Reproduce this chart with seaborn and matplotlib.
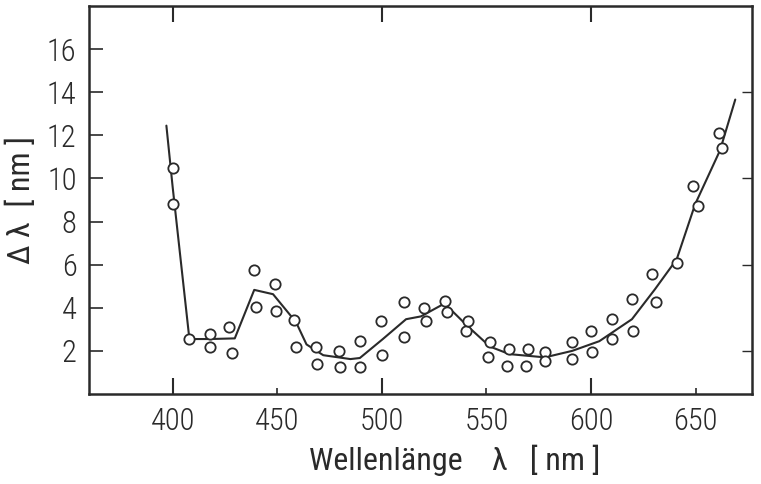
import matplotlib
matplotlib.use("Agg")
import matplotlib.pyplot as plt
import seaborn as sns
import pandas as pd
from matplotlib import font_manager

# measured points (wavelength nm, delta lambda nm)
wl = [400, 400, 408, 418, 418, 427, 428.5, 438.8, 440, 449, 449.6, 458, 459,
      468.6, 469, 479.4, 480, 489.8, 489.5, 499.4, 500.3, 510.5, 510.5, 520, 521,
      530, 531, 540.4, 541, 551.7, 550.7, 561, 560, 570, 569, 578, 578,
      590.8, 590.8, 600, 600.5, 610, 610, 619.5, 620, 629, 631, 641,
      648.9, 651, 661, 662.5]
dl = [10.5, 8.8, 2.55, 2.78, 2.18, 3.1, 1.9, 5.75, 4.05, 5.1, 3.85, 3.45, 2.2,
      2.18, 1.4, 2.0, 1.25, 2.47, 1.25, 3.4, 1.8, 4.27, 2.63, 4.0, 3.4,
      4.3, 3.8, 2.93, 3.4, 2.4, 1.7, 2.08, 1.3, 2.08, 1.3, 1.94, 1.53,
      2.4, 1.62, 2.93, 1.94, 3.47, 2.55, 4.4, 2.93, 5.55, 4.26, 6.1,
      9.64, 8.7, 12.1, 11.4]

# fitted curve
curve_wl = [397, 400, 408, 418, 429.7, 439, 448, 459, 464, 472, 485, 489.5,
            500.5, 511.6, 518.7, 530, 541, 551.7, 561, 578, 591, 604, 619.6,
            630.6, 641, 649.8, 661.7, 669]
curve_dl = [12.45, 9.6, 2.55, 2.55, 2.58, 4.83, 4.63, 3.33, 2.3, 1.8, 1.62, 1.67,
            2.55, 3.47, 3.6, 4.2, 3.15, 2.2, 1.85, 1.7, 2.0, 2.45, 3.47,
            4.86, 6.25, 8.8, 11.3, 13.66]

yticks = [2, 4, 6, 8, 10, 12, 14, 16]
xticks_major = [400, 500, 600]
xticks_minor = [450, 550, 650]

sns.set_theme(style="ticks")
names = {f.name for f in font_manager.fontManager.ttflist}
cands = [n for n in ["Liberation Sans Narrow", "DejaVu Sans Condensed", "Roboto Condensed",
                     "Open Sans Condensed", "Noto Sans Condensed"] if n in names]
plt.rcParams['font.family'] = cands + ['DejaVu Sans']
plt.rcParams['font.stretch'] = 'condensed'
plt.rcParams['font.weight'] = 'light'

ink = "#2a2a2a"
fig = plt.figure(figsize=(7.61, 4.84), dpi=100)
ax = fig.add_axes([89/761, 90/484, 663/761, 388/484])

pts = pd.DataFrame({"wl": wl, "dl": dl})
cur = pd.DataFrame({"wl": curve_wl, "dl": curve_dl})

sns.lineplot(data=cur, x="wl", y="dl", sort=False, estimator=None,
             color=ink, linewidth=1.5, ax=ax)
sns.scatterplot(data=pts, x="wl", y="dl", marker="o", s=55,
                facecolor="white", edgecolor=ink, linewidth=1.3, ax=ax, zorder=3)

ax.set_xlim(360, 677)
ax.set_ylim(0, 18)

ax.set_xticks(xticks_major + xticks_minor)
ax.set_xticklabels([str(v) for v in xticks_major + xticks_minor])
ax.set_yticks(yticks)
ax.set_yticklabels([str(v) for v in yticks])

ax.tick_params(axis="x", direction="in", length=0, pad=9, labelsize=22, colors=ink)
ax.tick_params(axis="y", direction="in", length=10, width=1.2, pad=9, labelsize=22, colors=ink)
ax.vlines(xticks_major, 0, 0.75, color=ink, linewidth=1.5)
ax.vlines(xticks_minor, 0, 0.3, color=ink, linewidth=1.2)
ax.vlines(xticks_major, 17.25, 18, color=ink, linewidth=1.5)
ax.hlines([2, 6, 10, 14], 672, 677, color=ink, linewidth=1.0)

for s in ax.spines.values():
    s.set_linewidth(1.8)
    s.set_color(ink)

ax.set_xlabel("Wellenlänge    λ   [ nm ]", fontsize=23, color=ink)
ax.xaxis.set_label_coords(0.552, -0.13)
ax.set_ylabel("Δ λ  [ nm ]", fontsize=23, color=ink, labelpad=8)

fig.savefig("out.png", dpi=100, facecolor="white")
